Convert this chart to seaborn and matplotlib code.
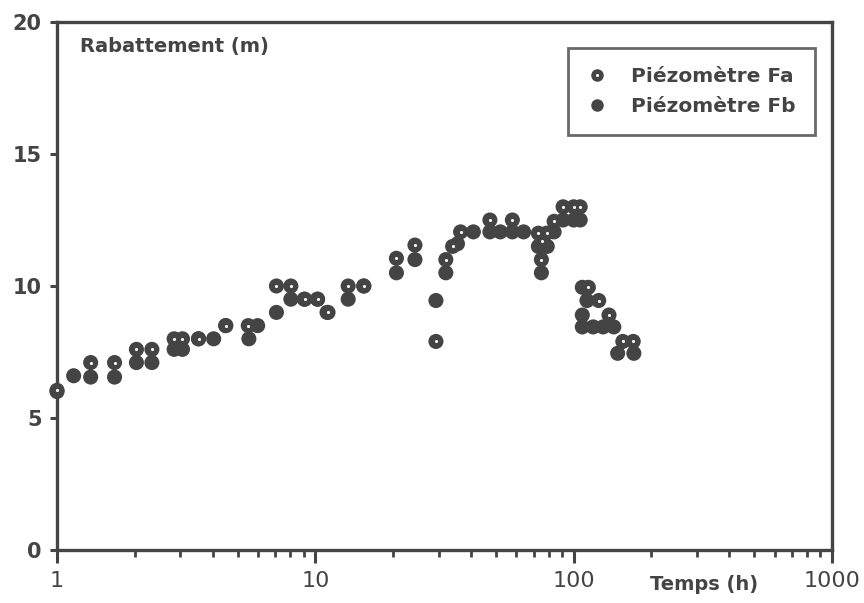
import numpy as np
import pandas as pd
import matplotlib
matplotlib.use("Agg")
import matplotlib.pyplot as plt
from matplotlib.lines import Line2D
import seaborn as sns

# ---- data ----
fa_t = [1.0, 1.35, 1.67, 2.03, 2.33, 2.84, 3.06, 3.53, 4.5, 5.5, 7.07, 8.04,
        9.1, 10.2, 11.2, 13.4, 15.4, 20.6, 24.3, 29.3, 32.0, 34.0, 36.5,
        47.4, 57.9, 73.0, 75.0, 75.5, 78.5, 84.0, 91.0, 100.0, 106.0,
        114.0, 125.0, 137.0, 155.0, 170.0]
fa_y = [6.05, 7.1, 7.1, 7.6, 7.6, 8.0, 8.0, 8.0, 8.5, 8.5, 10.0, 10.0,
        9.5, 9.5, 9.0, 10.0, 10.0, 11.05, 11.55, 7.9, 11.0, 11.5, 12.05,
        12.5, 12.5, 12.0, 11.0, 11.7, 12.0, 12.45, 13.0, 13.0, 13.0,
        9.95, 9.45, 8.9, 7.9, 7.9]

fb_t = [1.0, 1.16, 1.35, 1.67, 2.03, 2.33, 2.84, 3.06, 3.53, 4.04, 4.5,
        5.53, 5.98, 7.07, 8.04, 9.06, 10.2, 11.1, 13.4, 15.4, 20.6, 24.3,
        29.3, 32.0, 35.5, 40.9, 47.4, 52.0, 57.9, 64.0, 73.0, 75.0, 79.0,
        84.0, 91.0, 100.0, 106.0, 108.0, 108.0, 108.0, 112.6, 119.0,
        130.0, 143.0, 148.0, 171.0]
fb_y = [6.0, 6.6, 6.55, 6.55, 7.1, 7.1, 7.6, 7.6, 8.0, 8.0, 8.5,
        8.0, 8.5, 9.0, 9.5, 9.5, 9.5, 9.0, 9.5, 10.0, 10.5, 11.0,
        9.45, 10.5, 11.6, 12.05, 12.05, 12.05, 12.05, 12.05, 11.5, 10.5, 11.5,
        12.05, 12.5, 12.5, 12.5, 9.95, 8.9, 8.45, 9.45, 8.45,
        8.45, 8.45, 7.45, 7.45]

series_names = ["Piézomètre Fa", "Piézomètre Fb"]
x_ticks = [1, 10, 100, 1000]
x_ticklabels = ["1", "10", "100", "1000"]
y_ticks = [0, 5, 10, 15, 20]

df = pd.DataFrame({
    "t": fa_t + fb_t,
    "y": fa_y + fb_y,
    "serie": [series_names[0]] * len(fa_t) + [series_names[1]] * len(fb_t),
})
df_fa = df[df["serie"] == series_names[0]]

# ---- style ----
sns.set_theme(style="ticks")
plt.rcParams["font.family"] = ["DejaVu Sans"]
ink = "#444444"

fig = plt.figure(figsize=(8.64, 6.03), dpi=100)
ax = fig.add_axes([57 / 864, 1 - 550 / 603, (832 - 57) / 864, (550 - 22) / 603])

sns.scatterplot(data=df, x="t", y="y", hue="serie",
                palette={series_names[0]: ink, series_names[1]: ink},
                s=118, linewidth=0, marker="o", legend=False, ax=ax,
                clip_on=False, zorder=3)
sns.scatterplot(data=df_fa, x="t", y="y", color="white", s=5,
                linewidth=0, legend=False, ax=ax, clip_on=False, zorder=4)

ax.set_xscale("log")
ax.set_xlim(1, 1000)
ax.set_ylim(0, 20)
ax.set_xticks(x_ticks)
ax.set_xticklabels(x_ticklabels)
ax.set_yticks(y_ticks)
ax.set_xlabel("")
ax.set_ylabel("")

for sp in ax.spines.values():
    sp.set_visible(True)
    sp.set_linewidth(2.4)
    sp.set_color(ink)

ax.tick_params(axis="x", which="major", direction="out", length=9, width=2.2,
               color=ink, labelsize=16, labelcolor=ink, pad=6,
               top=False)
ax.tick_params(axis="x", which="minor", direction="out", length=5, width=2.0,
               color=ink, top=False)
ax.tick_params(axis="y", which="major", direction="out", length=5, width=2.2,
               color=ink, labelsize=15, labelcolor=ink, pad=6, right=False)
for lab in ax.get_yticklabels():
    lab.set_fontweight("bold")

ax.text(0.03, 0.953, "Rabattement (m)", transform=ax.transAxes,
        fontsize=14, fontweight="bold", color=ink, ha="left", va="center")
fig.text(704 / 864, 1 - 585 / 603, "Temps (h)", fontsize=14,
         fontweight="bold", color=ink, ha="center", va="center")

h_fa = (Line2D([], [], marker="o", ls="none", color=ink, markersize=9, markeredgewidth=0),
        Line2D([], [], marker="o", ls="none", color="white", markersize=2.2, markeredgewidth=0))
h_fb = Line2D([], [], marker="o", ls="none", color=ink, markersize=9, markeredgewidth=0)
leg = ax.legend([h_fa, h_fb], series_names, loc="upper right",
                bbox_to_anchor=(815 / 864, 1 - 48 / 603),
                bbox_transform=fig.transFigure, frameon=True, fancybox=False,
                prop={"size": 14.5, "weight": "bold"}, borderpad=0.95,
                borderaxespad=0, labelspacing=0.55, handletextpad=1.2,
                handlelength=1.0)
leg.get_frame().set_edgecolor(ink)
leg.get_frame().set_linewidth(2.0)
for txt in leg.get_texts():
    txt.set_color(ink)

fig.savefig("out.png", dpi=100, facecolor="white")
